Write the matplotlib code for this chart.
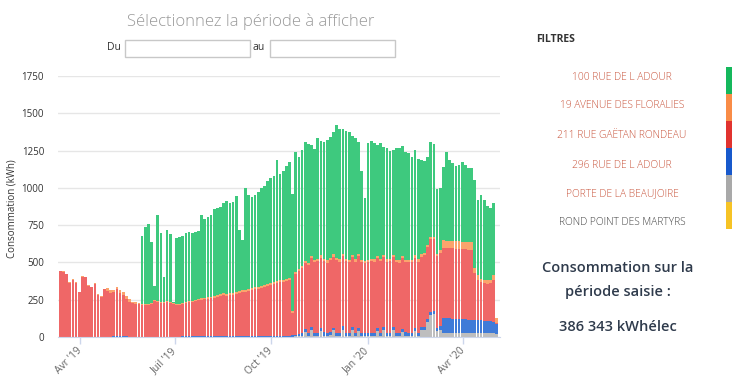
import numpy as np
import matplotlib
matplotlib.use('Agg')
import matplotlib.pyplot as plt
import matplotlib.dates as mdates
from matplotlib.patches import Rectangle

plt.rcParams['font.family'] = ['Open Sans', 'DejaVu Sans']

# one bar every 3 days, starting 12 Mar 2019
start_date = np.datetime64('2019-03-12')
n_bars = 140
bar_days = 3

# kWh per bar, stacked bottom -> top: grey, blue, red, orange, green
grey_beaujoire = [0] * 74 + [3, 5, 8, 10, 35, 8, 45] + [
    10, 8, 40, 10, 8, 12, 45, 10, 8, 50, 10, 8, 45, 10, 40, 8, 5, 10,
    8, 10, 40, 10, 45, 10, 8, 45, 10, 8, 35, 10, 8, 10, 40, 10, 45, 50,
] + [100, 150, 155, 40, 45] + [28] * 17 + [20]

blue_296_adour = [0] * 17 + [8] * 5 + [0] * 17 + [5] * 22 + [7] * 12 + [10] * 4 + [
    20, 20, 22, 20, 18, 20, 20, 22, 20, 20, 18, 20, 20, 22, 20, 20, 20, 18, 20, 20, 22, 20,
    20, 20, 18, 20, 22, 20, 20, 20, 18, 20, 20, 22, 20, 20, 20, 18, 20, 20, 22, 20, 20, 20,
] + [30] + [100, 98, 97, 96, 95, 93, 92, 90, 88, 88, 86, 85, 84, 82, 80, 78, 75, 70]

red_211_gaetan = [
    440, 435, 420, 365, 385, 365, 300, 404, 400, 345, 333, 355, 280, 270, 320, 311, 295, 292,
    312, 287, 275, 250, 235, 225, 224, 222, 212, 215,
    215, 218, 240, 232, 230, 228, 232, 230, 222, 215, 212,
    215, 223, 227, 231, 235, 240, 245, 248, 251, 255, 259, 263, 270, 275, 270, 275, 279, 285,
    290, 295, 300, 305, 308, 313, 318, 323, 329, 335, 343, 351, 357, 361, 365, 371, 372,
    147, 405, 422, 430, 440, 455, 465,
    475, 480, 472, 478, 470, 482, 476, 485, 478, 472, 480, 475, 470, 478, 482, 475, 468, 474,
    480, 476, 472, 478, 470, 475, 480, 472, 476, 470, 474, 468, 475, 470, 472, 478, 474, 480,
    480, 485, 480, 480, 485,
    472, 470, 470, 470, 470, 470, 470, 470, 470, 470,
    314, 270, 254, 250, 250, 255, 280, 5,
]

orange_19_floralies = [5] * 15 + [18] * 8 + [8] * 22 + [10] * 5 + [12] * 17 + [13] * 7 + [
    13, 14, 14, 14, 14, 14] + [15] * 37 + [18, 18, 18, 18, 20] + [50] * 10 + [
    33, 31, 25, 22, 22, 22, 30, 30]

green_100_adour = [0] * 26 + [
    460, 517, 532, 414, 92, 580, 462, 164, 480, 452, 5, 439, 450,
    452, 459, 462, 456, 457, 459, 555, 527, 539, 545, 581, 585, 583, 608, 628, 608,
    609, 643, 413, 338, 683, 633, 613, 618, 638, 658, 667, 691, 705, 709, 813, 714,
    730, 757, 780,
    787, 806, 756, 781, 801, 798, 740,
    742, 812, 765, 785, 807, 813, 820, 890, 872, 835, 855, 857, 795, 810, 750, 592,
    425, 780, 794, 780, 740, 780, 725, 745, 727, 705, 750, 757, 735, 725, 717, 695,
    710, 675, 630, 615,
    587, 637, 622, 432, 420,
    490, 594, 545, 526, 502, 509, 535, 517, 499, 494,
    590, 502, 560, 539, 501, 483, 488, 0,
]

site_names = ['100 RUE DE L ADOUR', '19 AVENUE DES FLORALIES', '211 RUE GAËTAN RONDEAU',
              '296 RUE DE L ADOUR', 'PORTE DE LA BEAUJOIRE', 'ROND POINT DES MARTYRS']
legend_colors = ['#15b85c', '#f98c47', '#e1332f', '#1859cc', '#a9a9a9', '#f6c325']

tick_dates = ['2019-04-01', '2019-07-01', '2019-10-01', '2020-01-01', '2020-04-01']
tick_labels = ["Avr '19", "Juil '19", "Oct '19", "Jan '20", "Avr '20"]
y_ticks = [0, 250, 500, 750, 1000, 1250, 1500, 1750]

total_text = '386 343 kWhélec'

# series in stacking order with their bar colours
stack = [
    (grey_beaujoire, '#bebebe'),
    (blue_296_adour, '#3f7bd8'),
    (red_211_gaetan, '#ef6767'),
    (orange_19_floralies, '#fba46c'),
    (green_100_adour, '#3ec97e'),
]


def to_num(d):
    return mdates.date2num(np.datetime64(d, 'D').astype(object))


dates = start_date + np.arange(n_bars) * bar_days
x = np.array([to_num(d) for d in dates])

W, H = 753, 388
fig = plt.figure(figsize=(W / 100, H / 100), dpi=100)
ax = fig.add_axes([58 / W, 51 / H, 442 / W, 261 / H])

bottom = np.zeros(n_bars)
for values, color in stack:
    values = np.array(values, dtype=float)
    ax.bar(x, values, width=bar_days * 0.86, bottom=bottom, align='edge',
           color=color, linewidth=0, zorder=2)
    bottom += values

ax.set_ylim(0, 1750)
ax.set_xlim(to_num('2019-03-11'), to_num('2020-05-06') + 0.4)
ax.set_yticks(y_ticks)
ax.set_yticklabels([str(v) for v in y_ticks], fontsize=7, color='#333333')
ax.grid(axis='y', color='#e6e6e6', linewidth=1, zorder=0)
ax.tick_params(axis='y', length=0, pad=10)

ax.set_xticks([to_num(d) for d in tick_dates])
ax.set_xticklabels(tick_labels, fontsize=7.5, color='#666666', rotation=45,
                   ha='right', va='center', rotation_mode='anchor')
ax.tick_params(axis='x', length=5, width=1, color='#ccd6eb', pad=4)

for side in ['top', 'right', 'left']:
    ax.spines[side].set_visible(False)
ax.spines['bottom'].set_color('#ccd6eb')
ax.spines['bottom'].set_zorder(3)

ax.set_ylabel('Consommation (kWh)', fontsize=7, color='#333333')
ax.yaxis.set_label_coords(-0.092, 0.49)

# header: date picker
fig.text(251 / W, 1 - 22 / H, 'Sélectionnez la période à afficher', fontsize=12,
         color='#999999', ha='center', va='center', weight='light')
fig.text(114 / W, 1 - 48 / H, 'Du', fontsize=7.5, color='#333333', ha='center', va='center')
fig.text(259 / W, 1 - 48 / H, 'au', fontsize=7.5, color='#333333', ha='center', va='center')
for x0, x1 in [(125, 250), (270, 395)]:
    fig.patches.append(Rectangle((x0 / W, 1 - 57 / H), (x1 - x0) / W, 17 / H,
                                 transform=fig.transFigure, facecolor='white',
                                 edgecolor='#c8c8c8', linewidth=1))

# right panel: filters
fig.text(536 / W, 1 - 39 / H, 'FILTRES', fontsize=7.5, color='#333333',
         weight='bold', ha='left', va='center')
label_y = [77, 106, 136, 165, 194, 223]
for i, (name, ly) in enumerate(zip(site_names, label_y)):
    col = '#c9573f' if i < 5 else '#444444'
    fig.text(622 / W, 1 - ly / H, name, fontsize=7.4, color=col, ha='center', va='center',
             weight='light')
    fig.patches.append(Rectangle((726 / W, 1 - (67 + 27 * (i + 1)) / H), 6 / W, 27 / H,
                                 transform=fig.transFigure, facecolor=legend_colors[i],
                                 edgecolor='none'))

fig.text(618 / W, 1 - 268 / H, 'Consommation sur la', fontsize=10.5, color='#2f3b4c',
         ha='center', va='center', weight='semibold')
fig.text(618 / W, 1 - 292 / H, 'période saisie :', fontsize=10.5, color='#2f3b4c',
         ha='center', va='center', weight='semibold')
fig.text(618 / W, 1 - 327 / H, total_text, fontsize=10.5, color='#2f3b4c',
         ha='center', va='center', weight='semibold')

fig.savefig('out.png', dpi=100)
